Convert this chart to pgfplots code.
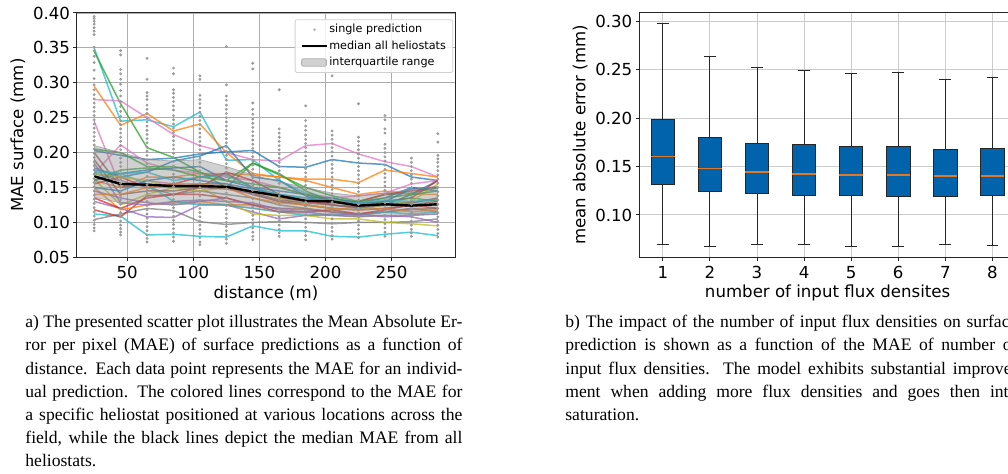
\documentclass[border=0pt]{standalone}
\usepackage{pgfplots}
\pgfplotsset{compat=1.18}
\usepackage{fontspec}
\setmainfont{DejaVu Sans}
\newfontfamily\capfont{Liberation Serif}
\definecolor{C0}{HTML}{1F77B4}
\definecolor{C1}{HTML}{FF7F0E}
\definecolor{C2}{HTML}{2CA02C}
\definecolor{C3}{HTML}{D62728}
\definecolor{C4}{HTML}{9467BD}
\definecolor{C5}{HTML}{8C564B}
\definecolor{C6}{HTML}{E377C2}
\definecolor{C7}{HTML}{7F7F7F}
\definecolor{C8}{HTML}{BCBD22}
\definecolor{C9}{HTML}{17BECF}
\definecolor{boxblue}{HTML}{0063AC}
\definecolor{medorange}{HTML}{E0782A}
\newcommand{\tfont}{\fontsize{8.3}{10}\selectfont}
\pgfplotsset{
  mystyle/.style={
    scale only axis,
    axis line style={black!85, line width=0.5pt},
    tick align=outside,
    tick pos=left,
    major tick length=1.8pt,
    every tick/.style={black!85, line width=0.5pt},
    tick label style={font=\tfont, inner sep=1.5pt},
    xticklabel style={yshift=-1pt},
    label style={font=\tfont},
    /pgf/number format/assume math mode=true,
    grid=major,
  },
  hel/.style={line width=0.75pt, opacity=0.75, forget plot},
  dots/.style={only marks, mark=*, mark size=0.5pt, color=black!40,
     mark options={draw=none, fill=black!40, fill opacity=0.33}, forget plot},
  bx/.style={fill=boxblue, draw=black!85, line width=0.5pt},
  wsk/.style={draw=black!85, line width=0.5pt, unbounded coords=jump},
  md/.style={draw=medorange, line width=0.6pt},
}
\begin{document}
\begin{tikzpicture}
\path[use as bounding box] (0,0) rectangle (504pt,237pt);
\clip (0,0) rectangle (504pt,237pt);
% ---------------- left panel ----------------
\begin{axis}[mystyle,
  at={(38.5pt,108.35pt)}, anchor=south west,
  width=189pt, height=122.15pt,
  xmin=12, xmax=298, ymin=0.05, ymax=0.40,
  xtick={50,100,150,200,250},
  ytick={0.05,0.10,0.15,0.20,0.25,0.30,0.35,0.40},
  scaled y ticks=false,
  yticklabel style={/pgf/number format/.cd, fixed, fixed zerofill, precision=2},
  major grid style={black!32, line width=0.4pt},
  xlabel={distance (m)}, ylabel={MAE surface (mm)},
  xlabel style={at={(axis description cs:0.5,-0.146)}, anchor=center},
  ylabel style={at={(axis description cs:-0.156,0.5)}, anchor=center, rotate=0},
  legend style={at={(0.995,0.974)}, anchor=north east, draw=black!18, fill=white,
    fill opacity=0.85, text opacity=1, rounded corners=1pt,
    font=\fontsize{5.6}{6.5}\selectfont, inner xsep=2.6pt, inner ysep=1.5pt,
    row sep=1.2pt, nodes={inner sep=0.8pt, text height=4.2pt, text depth=1.2pt}},
  legend cell align=left,
]
% single predictions
\addplot[dots] table[row sep=\\, header=false, x expr=25, y index=0] {0.395\\0.392\\0.388\\0.384\\0.379\\0.374\\0.369\\0.351\\0.346\\0.338\\0.329\\0.318\\0.306\\0.297\\0.290\\0.283\\0.277\\0.271\\0.265\\0.259\\0.253\\0.247\\0.241\\0.235\\0.229\\0.223\\0.217\\0.211\\0.205\\0.199\\0.193\\0.187\\0.181\\0.175\\0.169\\0.163\\0.157\\0.151\\0.145\\0.139\\0.133\\0.127\\0.121\\0.115\\0.109\\0.103\\0.097\\0.092\\0.088\\};
\addplot[dots] table[row sep=\\, header=false, x expr=45, y index=0] {0.346\\0.340\\0.319\\0.313\\0.305\\0.298\\0.289\\0.281\\0.273\\0.266\\0.259\\0.252\\0.246\\0.240\\0.234\\0.228\\0.222\\0.216\\0.210\\0.204\\0.198\\0.192\\0.186\\0.180\\0.174\\0.168\\0.162\\0.156\\0.150\\0.144\\0.138\\0.132\\0.126\\0.120\\0.114\\0.108\\0.102\\0.096\\0.091\\0.086\\0.082\\};
\addplot[dots] table[row sep=\\, header=false, x expr=65, y index=0] {0.335\\0.305\\0.286\\0.281\\0.276\\0.268\\0.262\\0.256\\0.250\\0.244\\0.238\\0.232\\0.226\\0.220\\0.214\\0.208\\0.202\\0.196\\0.190\\0.184\\0.178\\0.172\\0.166\\0.160\\0.154\\0.148\\0.142\\0.136\\0.130\\0.124\\0.118\\0.112\\0.106\\0.100\\0.094\\0.088\\0.082\\0.077\\0.072\\};
\addplot[dots] table[row sep=\\, header=false, x expr=85, y index=0] {0.321\\0.313\\0.290\\0.285\\0.279\\0.273\\0.267\\0.261\\0.253\\0.247\\0.241\\0.235\\0.229\\0.223\\0.217\\0.211\\0.205\\0.199\\0.193\\0.187\\0.181\\0.175\\0.169\\0.163\\0.157\\0.151\\0.145\\0.139\\0.133\\0.127\\0.121\\0.115\\0.109\\0.103\\0.097\\0.091\\0.085\\0.079\\0.073\\};
\addplot[dots] table[row sep=\\, header=false, x expr=105, y index=0] {0.310\\0.305\\0.282\\0.276\\0.270\\0.264\\0.258\\0.252\\0.246\\0.240\\0.234\\0.228\\0.222\\0.216\\0.210\\0.204\\0.198\\0.192\\0.186\\0.180\\0.174\\0.168\\0.162\\0.156\\0.150\\0.144\\0.138\\0.132\\0.126\\0.120\\0.114\\0.108\\0.102\\0.096\\0.090\\0.084\\0.078\\0.072\\0.068\\};
\addplot[dots] table[row sep=\\, header=false, x expr=125, y index=0] {0.352\\0.297\\0.281\\0.275\\0.268\\0.262\\0.256\\0.250\\0.244\\0.238\\0.232\\0.226\\0.220\\0.214\\0.208\\0.202\\0.196\\0.190\\0.184\\0.178\\0.172\\0.166\\0.160\\0.154\\0.148\\0.142\\0.136\\0.130\\0.124\\0.118\\0.112\\0.106\\0.100\\0.094\\0.088\\0.082\\0.076\\0.070\\};
\addplot[dots] table[row sep=\\, header=false, x expr=145, y index=0] {0.328\\0.320\\0.271\\0.262\\0.255\\0.248\\0.242\\0.236\\0.230\\0.224\\0.218\\0.212\\0.206\\0.200\\0.194\\0.188\\0.182\\0.176\\0.170\\0.164\\0.158\\0.152\\0.146\\0.140\\0.134\\0.128\\0.122\\0.116\\0.110\\0.104\\0.098\\0.092\\0.086\\0.080\\0.075\\};
\addplot[dots] table[row sep=\\, header=false, x expr=165, y index=0] {0.290\\0.234\\0.228\\0.222\\0.216\\0.210\\0.204\\0.198\\0.192\\0.186\\0.180\\0.174\\0.168\\0.162\\0.156\\0.150\\0.144\\0.138\\0.132\\0.126\\0.120\\0.114\\0.108\\0.102\\0.096\\0.090\\0.085\\0.080\\};
\addplot[dots] table[row sep=\\, header=false, x expr=185, y index=0] {0.267\\0.246\\0.238\\0.232\\0.225\\0.219\\0.213\\0.207\\0.201\\0.195\\0.189\\0.183\\0.177\\0.171\\0.165\\0.159\\0.153\\0.147\\0.141\\0.135\\0.129\\0.123\\0.117\\0.111\\0.105\\0.099\\0.093\\0.087\\0.081\\0.075\\};
\addplot[dots] table[row sep=\\, header=false, x expr=205, y index=0] {0.310\\0.231\\0.225\\0.219\\0.213\\0.207\\0.201\\0.195\\0.189\\0.183\\0.177\\0.171\\0.165\\0.159\\0.153\\0.147\\0.141\\0.135\\0.129\\0.123\\0.117\\0.111\\0.105\\0.099\\0.093\\0.087\\0.081\\0.076\\};
\addplot[dots] table[row sep=\\, header=false, x expr=225, y index=0] {0.270\\0.222\\0.216\\0.210\\0.204\\0.198\\0.192\\0.186\\0.180\\0.174\\0.168\\0.162\\0.156\\0.150\\0.144\\0.138\\0.132\\0.126\\0.120\\0.114\\0.108\\0.102\\0.096\\0.090\\0.084\\0.078\\};
\addplot[dots] table[row sep=\\, header=false, x expr=245, y index=0] {0.253\\0.247\\0.234\\0.228\\0.212\\0.206\\0.200\\0.194\\0.188\\0.182\\0.176\\0.170\\0.164\\0.158\\0.152\\0.146\\0.140\\0.134\\0.128\\0.122\\0.116\\0.110\\0.104\\0.098\\0.092\\0.086\\0.080\\};
\addplot[dots] table[row sep=\\, header=false, x expr=265, y index=0] {0.192\\0.186\\0.180\\0.174\\0.168\\0.162\\0.156\\0.150\\0.144\\0.138\\0.132\\0.126\\0.120\\0.114\\0.108\\0.102\\0.096\\0.090\\0.085\\0.080\\};
\addplot[dots] table[row sep=\\, header=false, x expr=285, y index=0] {0.227\\0.215\\0.196\\0.191\\0.186\\0.180\\0.174\\0.168\\0.162\\0.156\\0.150\\0.144\\0.138\\0.132\\0.126\\0.120\\0.114\\0.108\\0.102\\0.096\\0.090\\0.084\\0.079\\};
% heliostat lines
\addplot[hel, C9] coordinates {(25,0.350)(45,0.245)(65,0.247)(85,0.237)(105,0.258)(125,0.189)(145,0.190)(165,0.160)(185,0.142)(205,0.135)(225,0.127)(245,0.130)(265,0.128)(285,0.132)};
\addplot[hel, C2] coordinates {(25,0.345)(45,0.270)(65,0.207)(85,0.193)(105,0.172)(125,0.150)(145,0.185)(165,0.168)(185,0.150)(205,0.138)(225,0.130)(245,0.140)(265,0.142)(285,0.150)};
\addplot[hel, C1] coordinates {(25,0.295)(45,0.239)(65,0.256)(85,0.231)(105,0.241)(125,0.200)(145,0.170)(165,0.165)(185,0.160)(205,0.150)(225,0.140)(245,0.145)(265,0.140)(285,0.140)};
\addplot[hel, C6] coordinates {(25,0.276)(45,0.274)(65,0.250)(85,0.226)(105,0.210)(125,0.200)(145,0.190)(165,0.188)(185,0.210)(205,0.213)(225,0.198)(245,0.187)(265,0.180)(285,0.165)};
\addplot[hel, C0] coordinates {(25,0.203)(45,0.196)(65,0.190)(85,0.192)(105,0.198)(125,0.201)(145,0.203)(165,0.180)(185,0.179)(205,0.190)(225,0.185)(245,0.183)(265,0.165)(285,0.160)};
\addplot[hel, C0] coordinates {(25,0.178)(45,0.165)(65,0.172)(85,0.188)(105,0.195)(125,0.210)(145,0.165)(165,0.160)(185,0.138)(205,0.125)(225,0.120)(245,0.125)(265,0.140)(285,0.160)};
\addplot[hel, C9] coordinates {(25,0.112)(45,0.109)(65,0.082)(85,0.083)(105,0.080)(125,0.079)(145,0.095)(165,0.088)(185,0.088)(205,0.080)(225,0.079)(245,0.083)(265,0.086)(285,0.081)};
\addplot[hel, C7] coordinates {(25,0.104)(45,0.112)(65,0.120)(85,0.117)(105,0.101)(125,0.097)(145,0.100)(165,0.101)(185,0.100)(205,0.098)(225,0.100)(245,0.100)(265,0.101)(285,0.105)};
\addplot[hel, C6] coordinates {(25,0.170)(45,0.211)(65,0.185)(85,0.175)(105,0.170)(125,0.165)(145,0.160)(165,0.150)(185,0.140)(205,0.135)(225,0.138)(245,0.142)(265,0.155)(285,0.160)};
\addplot[hel, C6] coordinates {(25,0.245)(45,0.150)(65,0.160)(85,0.155)(105,0.150)(125,0.148)(145,0.140)(165,0.130)(185,0.125)(205,0.120)(225,0.118)(245,0.120)(265,0.125)(285,0.125)};
\addplot[hel, C1] coordinates {(25,0.160)(45,0.150)(65,0.165)(85,0.165)(105,0.170)(125,0.170)(145,0.168)(165,0.165)(185,0.162)(205,0.162)(225,0.157)(245,0.175)(265,0.170)(285,0.165)};
\addplot[hel, C3] coordinates {(25,0.118)(45,0.108)(65,0.138)(85,0.140)(105,0.150)(125,0.172)(145,0.160)(165,0.140)(185,0.130)(205,0.125)(225,0.122)(245,0.130)(265,0.135)(285,0.160)};
\addplot[hel, C4] coordinates {(25,0.130)(45,0.120)(65,0.108)(85,0.107)(105,0.125)(125,0.125)(145,0.115)(165,0.105)(185,0.110)(205,0.110)(225,0.108)(245,0.110)(265,0.108)(285,0.100)};
\addplot[hel, C8] coordinates {(25,0.162)(45,0.125)(65,0.140)(85,0.150)(105,0.150)(125,0.130)(145,0.112)(165,0.110)(185,0.110)(205,0.105)(225,0.105)(245,0.100)(265,0.098)(285,0.095)};
\addplot[hel, C1] coordinates {(25,0.150)(45,0.118)(65,0.125)(85,0.128)(105,0.130)(125,0.125)(145,0.125)(165,0.120)(185,0.120)(205,0.115)(225,0.110)(245,0.115)(265,0.120)(285,0.120)};
\addplot[hel, C2] coordinates {(25,0.205)(45,0.200)(65,0.180)(85,0.180)(105,0.172)(125,0.160)(145,0.185)(165,0.170)(185,0.145)(205,0.130)(225,0.125)(245,0.130)(265,0.135)(285,0.130)};
\addplot[hel, C5] coordinates {(25,0.200)(45,0.150)(65,0.155)(85,0.150)(105,0.155)(125,0.155)(145,0.140)(165,0.130)(185,0.125)(205,0.120)(225,0.118)(245,0.120)(265,0.125)(285,0.130)};
\addplot[hel, C0] coordinates {(25,0.160)(45,0.170)(65,0.175)(85,0.178)(105,0.180)(125,0.160)(145,0.150)(165,0.145)(185,0.140)(205,0.130)(225,0.128)(245,0.135)(265,0.150)(285,0.145)};
\addplot[hel, C3] coordinates {(25,0.155)(45,0.165)(65,0.150)(85,0.155)(105,0.165)(125,0.170)(145,0.150)(165,0.135)(185,0.130)(205,0.128)(225,0.130)(245,0.140)(265,0.145)(285,0.150)};
\addplot[hel, C4] coordinates {(25,0.145)(45,0.135)(65,0.128)(85,0.125)(105,0.130)(125,0.135)(145,0.125)(165,0.120)(185,0.118)(205,0.115)(225,0.112)(245,0.115)(265,0.120)(285,0.115)};
\addplot[hel, C7] coordinates {(25,0.170)(45,0.160)(65,0.150)(85,0.140)(105,0.145)(125,0.140)(145,0.135)(165,0.125)(185,0.120)(205,0.115)(225,0.112)(245,0.115)(265,0.118)(285,0.120)};
\addplot[hel, C9] coordinates {(25,0.175)(45,0.170)(65,0.155)(85,0.130)(105,0.125)(125,0.125)(145,0.120)(165,0.115)(185,0.110)(205,0.112)(225,0.110)(245,0.115)(265,0.112)(285,0.115)};
\addplot[hel, C8] coordinates {(25,0.170)(45,0.165)(65,0.160)(85,0.150)(105,0.145)(125,0.150)(145,0.145)(165,0.135)(185,0.125)(205,0.120)(225,0.118)(245,0.125)(265,0.130)(285,0.155)};
\addplot[hel, C3] coordinates {(25,0.135)(45,0.120)(65,0.135)(85,0.140)(105,0.140)(125,0.135)(145,0.125)(165,0.115)(185,0.115)(205,0.118)(225,0.112)(245,0.118)(265,0.125)(285,0.120)};
\addplot[hel, C5] coordinates {(25,0.190)(45,0.140)(65,0.145)(85,0.145)(105,0.150)(125,0.148)(145,0.142)(165,0.132)(185,0.128)(205,0.125)(225,0.122)(245,0.125)(265,0.128)(285,0.135)};
\addplot[hel, C2] coordinates {(25,0.160)(45,0.175)(65,0.178)(85,0.175)(105,0.165)(125,0.160)(145,0.155)(165,0.150)(185,0.140)(205,0.132)(225,0.130)(245,0.135)(265,0.140)(285,0.145)};
\addplot[hel, C1] coordinates {(25,0.140)(45,0.140)(65,0.150)(85,0.155)(105,0.155)(125,0.150)(145,0.135)(165,0.128)(185,0.125)(205,0.120)(225,0.118)(245,0.120)(265,0.115)(285,0.118)};
\addplot[hel, C4] coordinates {(25,0.185)(45,0.128)(65,0.125)(85,0.130)(105,0.132)(125,0.130)(145,0.128)(165,0.118)(185,0.115)(205,0.110)(225,0.112)(245,0.108)(265,0.110)(285,0.112)};
\addplot[hel, C0] coordinates {(25,0.150)(45,0.145)(65,0.160)(85,0.165)(105,0.160)(125,0.155)(145,0.148)(165,0.140)(185,0.135)(205,0.135)(225,0.128)(245,0.130)(265,0.148)(285,0.150)};
\addplot[hel, C9] coordinates {(25,0.172)(45,0.170)(65,0.172)(85,0.160)(105,0.165)(125,0.168)(145,0.150)(165,0.140)(185,0.135)(205,0.130)(225,0.128)(245,0.132)(265,0.130)(285,0.133)};
% interquartile range
\addplot[fill=black!45, fill opacity=0.4, draw=black!45, draw opacity=0.6, line width=0.4pt, forget plot] coordinates {
(25,0.210)(45,0.200)(65,0.190)(85,0.188)(105,0.190)(125,0.180)(145,0.168)(165,0.158)(185,0.150)(205,0.142)(225,0.138)(245,0.142)(265,0.147)(285,0.152)
(285,0.112)(265,0.111)(245,0.110)(225,0.108)(205,0.110)(185,0.112)(165,0.115)(145,0.120)(125,0.124)(105,0.127)(85,0.125)(65,0.128)(45,0.128)(25,0.136)} -- cycle;
% median
\addplot[black, line width=1.2pt, forget plot] coordinates {(25,0.166)(45,0.155)(65,0.154)(85,0.152)(105,0.152)(125,0.151)(145,0.144)(165,0.138)(185,0.131)(205,0.130)(225,0.124)(245,0.126)(265,0.124)(285,0.126)};
% legend
\addlegendimage{legend image code/.code={\fill[black!45, opacity=0.45] (6.5pt,0pt) circle (0.5pt);}}
\addlegendentry{single prediction}
\addlegendimage{legend image code/.code={\draw[black, line width=1.2pt] (0pt,0pt) -- (12.5pt,0pt);}}
\addlegendentry{median all heliostats}
\addlegendimage{legend image code/.code={\draw[fill=black!45, fill opacity=0.4, draw=black!45, draw opacity=0.6, line width=0.4pt] (0pt,-1.9pt) rectangle (12.5pt,1.9pt);}}
\addlegendentry{interquartile range}
\end{axis}
% ---------------- right panel ----------------
\begin{axis}[mystyle,
  at={(319.65pt,108.35pt)}, anchor=south west,
  width=188.35pt, height=122.3pt,
  xmin=0.5, xmax=8.5, ymin=0.0564, ymax=0.3086,
  xtick={1,2,3,4,5,6,7,8},
  ytick={0.10,0.15,0.20,0.25,0.30},
  scaled y ticks=false,
  yticklabel style={/pgf/number format/.cd, fixed, fixed zerofill, precision=2},
  major grid style={black!20, line width=0.5pt},
  xlabel={number of input flux densites}, ylabel={mean absolute error (mm)},
  xlabel style={at={(axis description cs:0.5,-0.146)}, anchor=center},
  ylabel style={at={(axis description cs:-0.157,0.5)}, anchor=center, rotate=0},
]
% box 1
\addplot[wsk] coordinates {(1,0.1980)(1,0.2972)(1,nan)(0.875,0.2972)(1.125,0.2972)(1,nan)(1,0.1316)(1,0.0698)(1,nan)(0.875,0.0698)(1.125,0.0698)};
\addplot[bx] coordinates {(0.75,0.1316)(1.25,0.1316)(1.25,0.1980)(0.75,0.1980)} -- cycle;
\addplot[md] coordinates {(0.75,0.1600)(1.25,0.1600)};
% box 2
\addplot[wsk] coordinates {(2,0.1800)(2,0.2636)(2,nan)(1.875,0.2636)(2.125,0.2636)(2,nan)(2,0.1240)(2,0.0680)(2,nan)(1.875,0.0680)(2.125,0.0680)};
\addplot[bx] coordinates {(1.75,0.1240)(2.25,0.1240)(2.25,0.1800)(1.75,0.1800)} -- cycle;
\addplot[md] coordinates {(1.75,0.1481)(2.25,0.1481)};
% box 3
\addplot[wsk] coordinates {(3,0.1739)(3,0.2519)(3,nan)(2.875,0.2519)(3.125,0.2519)(3,nan)(3,0.1220)(3,0.0698)(3,nan)(2.875,0.0698)(3.125,0.0698)};
\addplot[bx] coordinates {(2.75,0.1220)(3.25,0.1220)(3.25,0.1739)(2.75,0.1739)} -- cycle;
\addplot[md] coordinates {(2.75,0.1443)(3.25,0.1443)};
% box 4
\addplot[wsk] coordinates {(4,0.1722)(4,0.2495)(4,nan)(3.875,0.2495)(4.125,0.2495)(4,nan)(4,0.1203)(4,0.0698)(4,nan)(3.875,0.0698)(4.125,0.0698)};
\addplot[bx] coordinates {(3.75,0.1203)(4.25,0.1203)(4.25,0.1722)(3.75,0.1722)} -- cycle;
\addplot[md] coordinates {(3.75,0.1423)(4.25,0.1423)};
% box 5
\addplot[wsk] coordinates {(5,0.1708)(5,0.2464)(5,nan)(4.875,0.2464)(5.125,0.2464)(5,nan)(5,0.1199)(5,0.0674)(5,nan)(4.875,0.0674)(5.125,0.0674)};
\addplot[bx] coordinates {(4.75,0.1199)(5.25,0.1199)(5.25,0.1708)(4.75,0.1708)} -- cycle;
\addplot[md] coordinates {(4.75,0.1412)(5.25,0.1412)};
% box 6
\addplot[wsk] coordinates {(6,0.1705)(6,0.2467)(6,nan)(5.875,0.2467)(6.125,0.2467)(6,nan)(6,0.1192)(6,0.0674)(6,nan)(5.875,0.0674)(6.125,0.0674)};
\addplot[bx] coordinates {(5.75,0.1192)(6.25,0.1192)(6.25,0.1705)(5.75,0.1705)} -- cycle;
\addplot[md] coordinates {(5.75,0.1412)(6.25,0.1412)};
% box 7
\addplot[wsk] coordinates {(7,0.1680)(7,0.2402)(7,nan)(6.875,0.2402)(7.125,0.2402)(7,nan)(7,0.1192)(7,0.0691)(7,nan)(6.875,0.0691)(7.125,0.0691)};
\addplot[bx] coordinates {(6.75,0.1192)(7.25,0.1192)(7.25,0.1680)(6.75,0.1680)} -- cycle;
\addplot[md] coordinates {(6.75,0.1402)(7.25,0.1402)};
% box 8
\addplot[wsk] coordinates {(8,0.1684)(8,0.2416)(8,nan)(7.875,0.2416)(8.125,0.2416)(8,nan)(8,0.1196)(8,0.0684)(8,nan)(7.875,0.0684)(8.125,0.0684)};
\addplot[bx] coordinates {(7.75,0.1196)(8.25,0.1196)(8.25,0.1684)(7.75,0.1684)} -- cycle;
\addplot[md] coordinates {(7.75,0.1402)(8.25,0.1402)};
\end{axis}
% ---------------- captions ----------------
\node[anchor=base west, inner sep=0pt] at (12.5pt,73.15pt) {\parbox[t]{218.5pt}{\capfont\fontsize{8.8}{11.6}\selectfont
a) The presented scatter plot illustrates the Mean Absolute Er-\linebreak
ror per pixel (MAE) of surface predictions as a function of\linebreak
distance. Each data point represents the MAE for an individ-\linebreak
ual prediction. The colored lines correspond to the MAE for\linebreak
a specific heliostat positioned at various locations across the\linebreak
field, while the black lines depict the median MAE from all\linebreak
heliostats.}};
\node[anchor=base west, inner sep=0pt] at (282.5pt,73.15pt) {\parbox[t]{226pt}{\capfont\fontsize{8.8}{11.6}\selectfont
b) The impact of the number of input flux densities on surface\linebreak
prediction is shown as a function of the MAE of number of\linebreak
input flux densities. The model exhibits substantial improve-\linebreak
ment when adding more flux densities and goes then into\linebreak
saturation.}};
\end{tikzpicture}
\end{document}
